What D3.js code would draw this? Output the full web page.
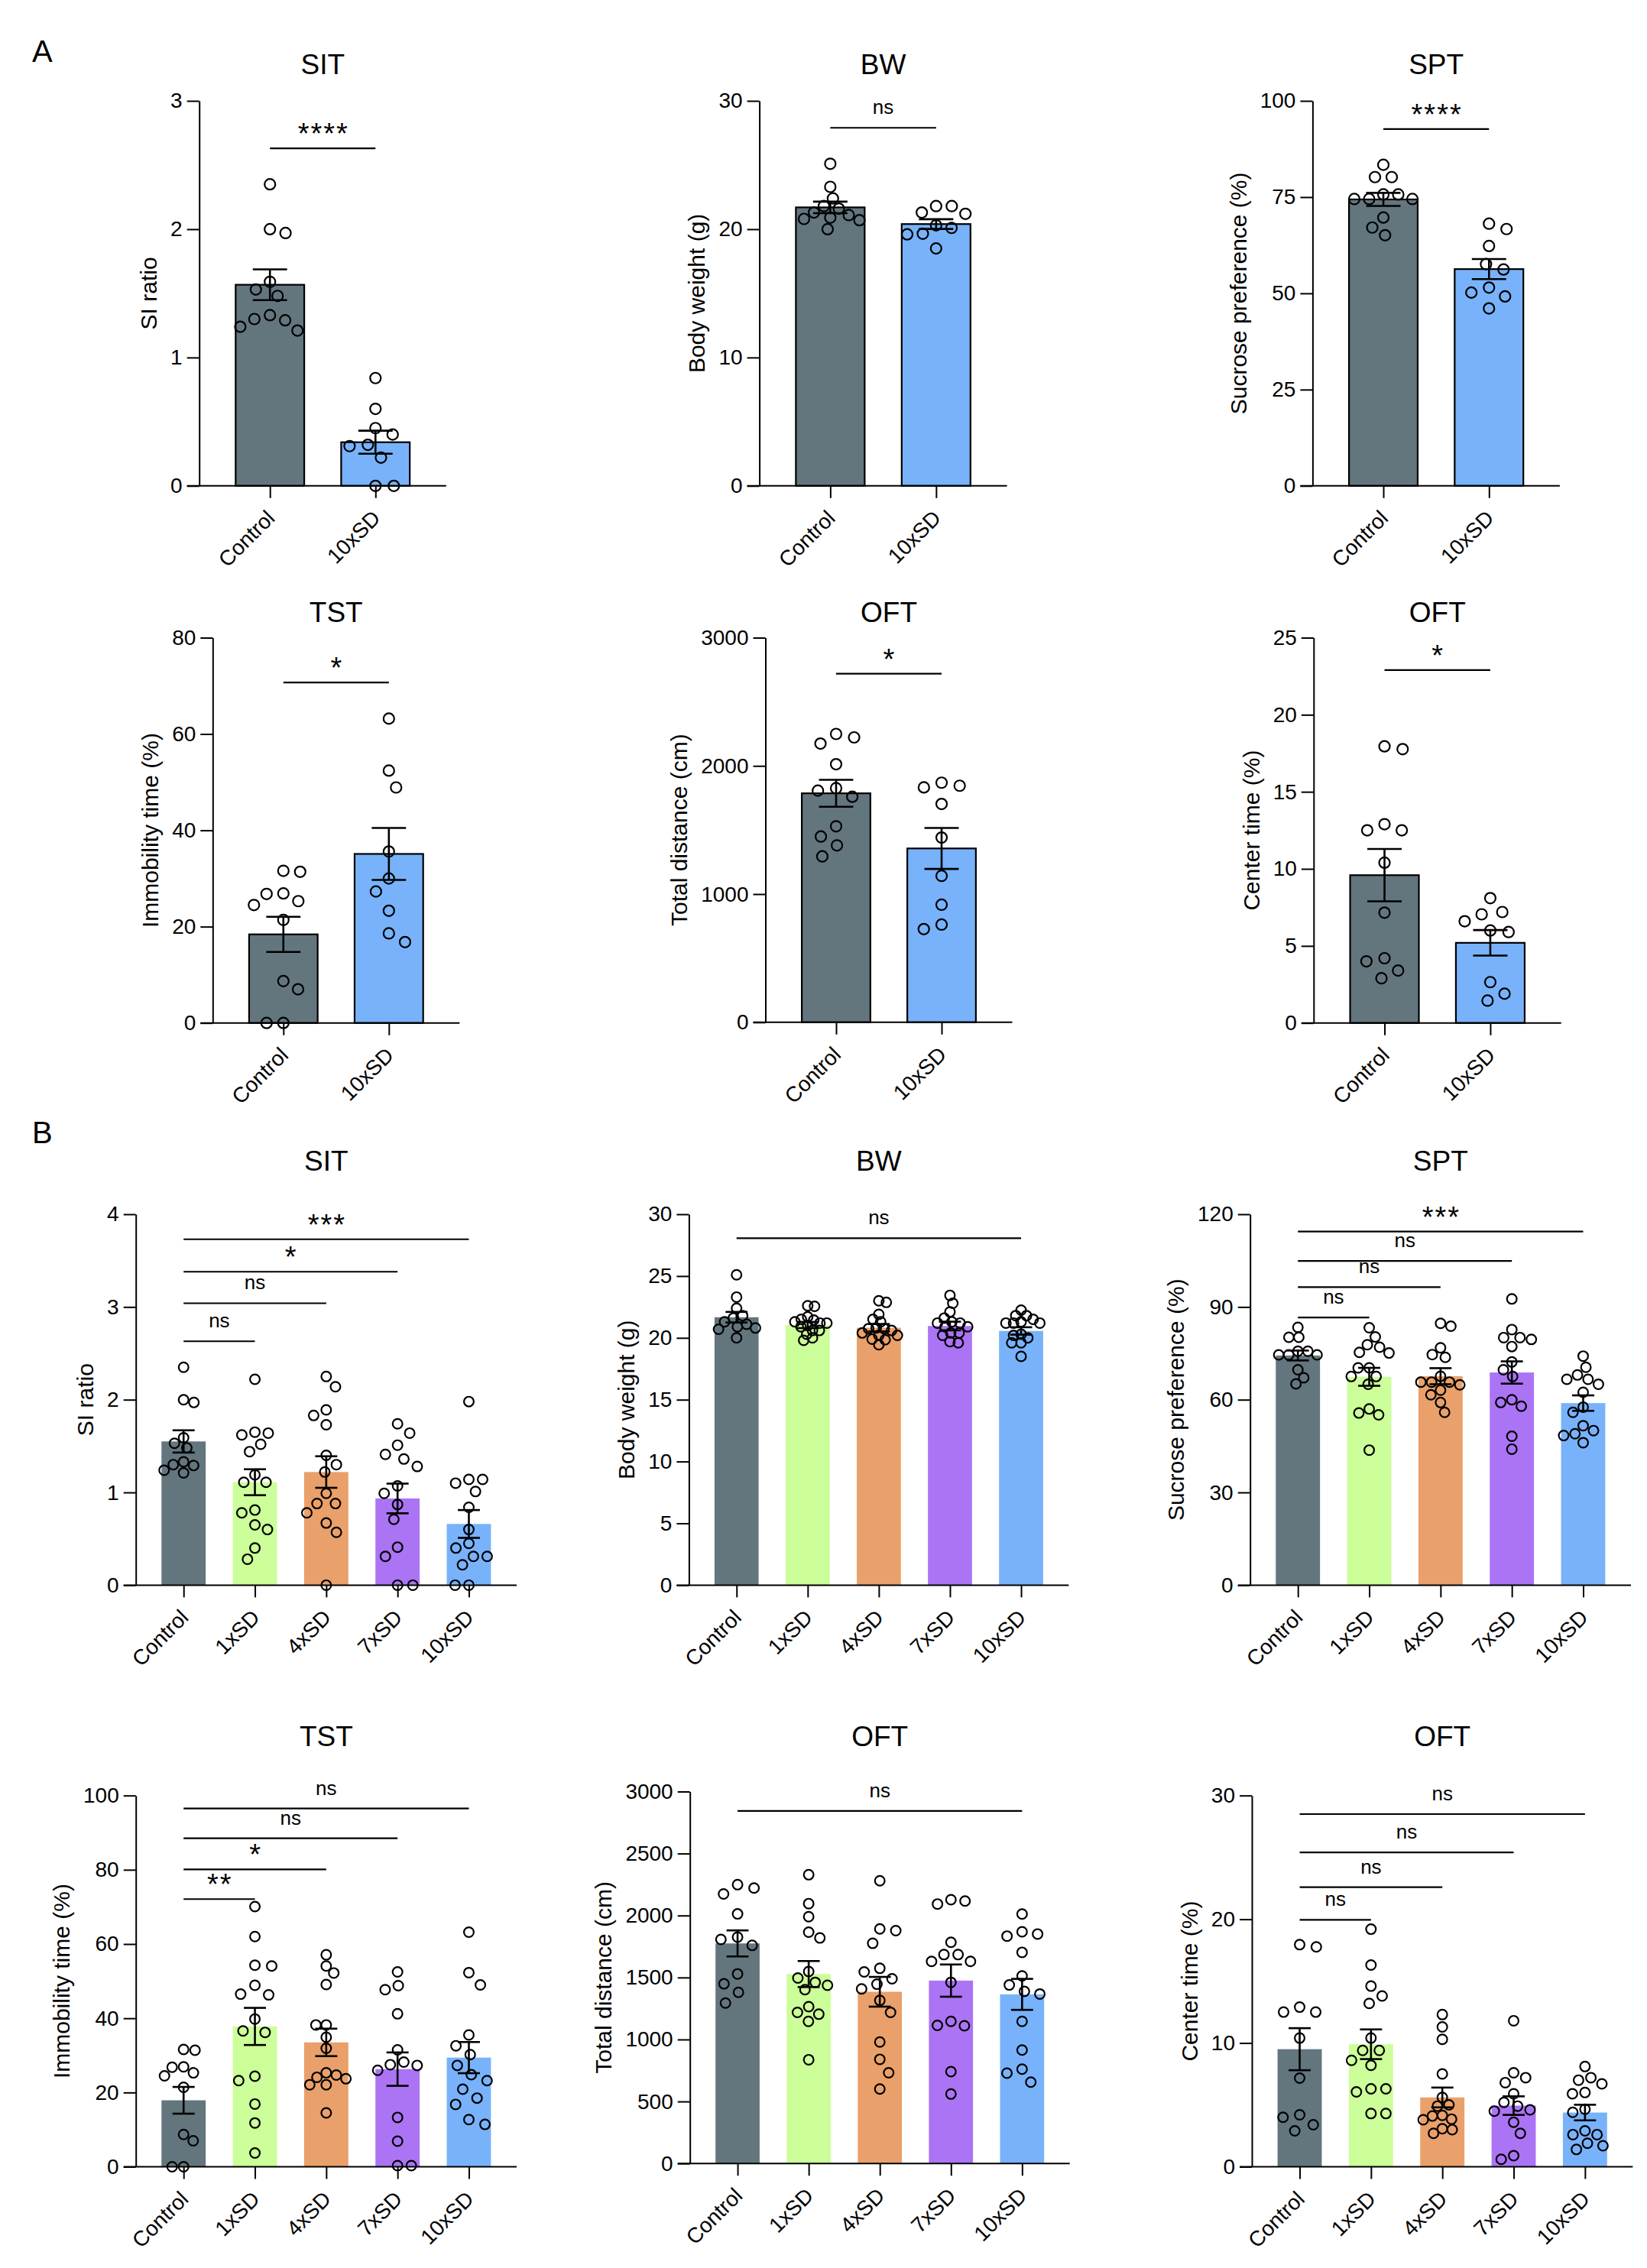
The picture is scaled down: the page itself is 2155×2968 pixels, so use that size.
<!DOCTYPE html>
<meta charset="utf-8">
<style>
    body { margin: 0; background: #fff; }
    text { font-family: "Liberation Sans", Arial, sans-serif; fill: #000; }
    .axis path, .axis line { stroke: #000; stroke-width: 2; }
    .axis text { font-size: 28px; }
    .title { font-size: 37px; text-anchor: middle; }
    .ylab { font-size: 30px; text-anchor: middle; }
    .xlab { font-size: 28px; text-anchor: end; }
    .panel-letter { font-size: 40px; }
    .sig-ns { font-size: 26px; text-anchor: middle; }
    .sig-star { font-size: 38px; text-anchor: middle; letter-spacing: 2px; }
</style>
<title>Behaviour panels</title>
<body>
<div id="fig"></div>
<script src="https://d3js.org/d3.v7.min.js"></script>
<script>
    // groups
    var groupsA = ["Control", "10xSD"];
    var groupsB = ["Control", "1xSD", "4xSD", "7xSD", "10xSD"];

    // SIT (SI ratio)
    var sitCtrl = [2.35, 2.0, 1.97, 1.59, 1.53, 1.48, 1.33, 1.30, 1.29, 1.24, 1.21];
    var sit1 = [2.22, 1.65, 1.64, 1.62, 1.52, 1.44, 1.19, 1.11, 1.11, 0.81, 0.78, 0.65, 0.60, 0.40, 0.28];
    var sit4 = [2.25, 2.14, 1.89, 1.83, 1.73, 1.40, 1.30, 1.22, 0.99, 0.88, 0.88, 0.78, 0.67, 0.57, 0];
    var sit7 = [1.74, 1.64, 1.51, 1.41, 1.36, 1.28, 1.07, 0.99, 0.87, 0.71, 0.41, 0.31, 0, 0];
    var sit10A = [0.84, 0.60, 0.45, 0.40, 0.32, 0.31, 0.22, 0, 0];
    var sit10B = [1.98, 1.14, 1.14, 1.10, 1.01, 0.84, 0.60, 0.45, 0.40, 0.31, 0.31, 0.22, 0, 0];
    var sitMeanA = [1.567, 0.34], sitSemA = [0.12, 0.09];
    var sitMeanB = [1.55, 1.11, 1.22, 0.935, 0.66], sitSemB = [0.12, 0.14, 0.17, 0.16, 0.15];

    // BW (body weight, g)
    var bwCtrl = [25.1, 23.3, 22.4, 21.8, 21.6, 21.3, 21.1, 20.9, 20.8, 20.7, 20.0];
    var bw1 = [22.6, 22.55, 21.7, 21.5, 21.44, 21.3, 21.2, 21.2, 21.0, 20.9, 20.6, 20.6, 20.3, 20.0, 19.8];
    var bw4 = [23.0, 22.87, 21.9, 21.5, 21.3, 20.8, 20.75, 20.75, 20.6, 20.4, 20.2, 20.2, 19.9, 19.85, 19.45];
    var bw7 = [23.44, 22.8, 22.1, 21.6, 21.3, 21.2, 21.2, 20.9, 20.9, 20.4, 20.4, 20.2, 19.7, 19.6];
    var bw10A = [21.8, 21.8, 21.3, 21.2, 20.3, 20.1, 19.65, 19.6, 18.5];
    var bw10B = [22.24, 21.8, 21.8, 21.5, 21.3, 21.2, 21.2, 21.2, 20.3, 20.2, 20.0, 19.6, 19.6, 18.5];
    var bwMeanA = [21.7, 20.4], bwSemA = [0.45, 0.38];
    var bwMeanB = [21.67, 21.04, 20.82, 20.96, 20.56], bwSemB = [0.43, 0.25, 0.3, 0.35, 0.3];

    // SPT (sucrose preference, %)
    var sptCtrl = [83.4, 80.2, 80.2, 75.7, 75.7, 74.5, 74.5, 74.5, 69.7, 67.1, 65.1];
    var spt1 = [83.3, 80.3, 77.8, 77.0, 75.3, 75.1, 70.3, 70.3, 67.5, 67.5, 65.0, 57.0, 55.7, 55.1, 43.7];
    var spt4 = [84.7, 83.8, 76.8, 74.6, 73.7, 67.6, 65.7, 65.7, 65.7, 64.8, 63.1, 61.6, 59.1, 55.9];
    var spt7 = [92.6, 82.7, 80.1, 80.1, 79.5, 77.2, 72.2, 69.7, 67.5, 60.0, 59.1, 57.9, 48.2, 44.0];
    var spt10A = [68.1, 66.7, 62.3, 57.6, 56.2, 51.5, 50.2, 49.2, 46.1];
    var spt10B = [74.1, 70.5, 68.0, 66.6, 66.6, 65.0, 62.4, 57.6, 55.9, 51.6, 50.0, 49.0, 48.4, 46.1];
    var sptMeanA = [74.4, 56.3], sptSemA = [1.7, 2.6];
    var sptMeanB = [74.3, 67.4, 67.6, 68.8, 58.9], sptSemB = [1.6, 2.9, 2.6, 3.6, 2.5];

    // TST (immobility time, %)
    var tstCtrl = [31.6, 31.4, 26.9, 26.8, 25.3, 24.5, 21.4, 8.7, 7.0, 0, 0];
    var tst1 = [70.1, 62.0, 54.3, 54.1, 48.9, 46.5, 46.3, 39.8, 36.6, 36.2, 24.4, 23.2, 16.9, 11.8, 3.7];
    var tst4 = [57.1, 54.1, 52.2, 49.1, 38.2, 38.2, 34.9, 31.9, 25.3, 24.7, 24.1, 23.7, 22.1, 22.1, 14.5];
    var tst7 = [52.5, 48.8, 47.7, 41.2, 31.5, 28.2, 27.5, 27.3, 26.0, 13.3, 6.9, 0.3, 0.3];
    var tst10A = [63.2, 52.4, 48.9, 35.6, 30.0, 27.3, 23.3, 18.6, 16.8];
    var tst10B = [63.2, 52.3, 49.0, 35.5, 32.6, 30.2, 27.3, 24.8, 23.2, 20.9, 18.5, 16.8, 12.7, 11.4];
    var tstMeanA = [18.4, 35.1], tstSemA = [3.65, 5.4];
    var tstMeanB = [17.9, 37.8, 33.5, 26.3, 29.4], tstSemB = [3.6, 5.0, 3.7, 4.5, 4.2];

    // OFT total distance (cm)
    var distCtrl = [2249, 2222, 2174, 2013, 1826, 1807, 1759, 1529, 1449, 1380, 1294];
    var dist1 = [2329, 2096, 1991, 1866, 1819, 1548, 1496, 1461, 1437, 1402, 1265, 1219, 1204, 1146, 837];
    var dist4 = [2280, 1892, 1878, 1776, 1574, 1545, 1490, 1446, 1408, 1315, 1219, 980, 840, 732, 601];
    var dist7 = [2128, 2117, 2093, 1784, 1685, 1685, 1630, 1630, 1461, 1146, 1114, 1111, 741, 560];
    var dist10A = [1869, 1845, 1832, 1703, 1441, 1142, 917, 762, 727];
    var dist10B = [2012, 1869, 1851, 1834, 1703, 1513, 1440, 1388, 1367, 1146, 915, 761, 729, 656];
    var distMeanA = [1786, 1356], distSemA = [105, 160];
    var distMeanB = [1775, 1528, 1385, 1475, 1364], distSemB = [105, 105, 120, 130, 125];

    // OFT center time (%)
    var ctrCtrl = [17.95, 17.77, 12.9, 12.5, 12.5, 10.4, 7.16, 4.2, 4.0, 3.4, 2.9];
    var ctr1 = [19.2, 16.3, 14.6, 13.8, 13.2, 10.4, 9.4, 9.4, 8.6, 8.2, 6.3, 6.3, 6.05, 4.3, 4.3];
    var ctr4 = [12.3, 11.3, 10.3, 7.5, 5.6, 5.0, 4.9, 4.15, 4.1, 3.85, 3.8, 3.07, 3.0, 2.7];
    var ctr7 = [11.8, 7.6, 7.2, 6.8, 5.9, 5.2, 4.9, 4.6, 4.5, 3.6, 2.7, 0.9, 0.6];
    var ctr10A = [8.1, 7.2, 7.05, 6.6, 6.0, 5.9, 2.65, 1.9, 1.45];
    var ctr10B = [8.1, 7.2, 7.0, 6.7, 6.0, 5.9, 4.65, 4.4, 2.9, 2.6, 2.6, 1.9, 1.7, 1.4];
    var ctrMeanA = [9.59, 5.2], ctrSemA = [1.7, 0.83];
    var ctrMeanB = [9.5, 9.9, 5.6, 4.94, 4.38], ctrSemB = [1.7, 1.2, 0.8, 0.75, 0.63];

    // y ticks
    var sitTicksA = [0, 1, 2, 3], sitTicksB = [0, 1, 2, 3, 4];
    var bwTicksA = [0, 10, 20, 30], bwTicksB = [0, 5, 10, 15, 20, 25, 30];
    var sptTicksA = [0, 25, 50, 75, 100], sptTicksB = [0, 30, 60, 90, 120];
    var tstTicksA = [0, 20, 40, 60, 80], tstTicksB = [0, 20, 40, 60, 80, 100];
    var distTicksA = [0, 1000, 2000, 3000], distTicksB = [0, 500, 1000, 1500, 2000, 2500, 3000];
    var ctrTicksA = [0, 5, 10, 15, 20, 25], ctrTicksB = [0, 10, 20, 30];

    // significance brackets (from Control to group index "to", height in data units)
    var sitSigA = [{to: 1, y: 2.63, label: "****"}];
    var bwSigA = [{to: 1, y: 27.9, label: "ns"}];
    var sptSigA = [{to: 1, y: 92.7, label: "****"}];
    var tstSigA = [{to: 1, y: 70.7, label: "*"}];
    var distSigA = [{to: 1, y: 2719, label: "*"}];
    var ctrSigA = [{to: 1, y: 22.9, label: "*"}];
    var sitSigB = [{to: 4, y: 3.73, label: "***"}, {to: 3, y: 3.38, label: "*"}, {to: 2, y: 3.04, label: "ns"}, {to: 1, y: 2.63, label: "ns"}];
    var bwSigB = [{to: 4, y: 28.06, label: "ns"}];
    var sptSigB = [{to: 4, y: 114.4, label: "***"}, {to: 3, y: 104.9, label: "ns"}, {to: 2, y: 96.4, label: "ns"}, {to: 1, y: 86.6, label: "ns"}];
    var tstSigB = [{to: 4, y: 96.5, label: "ns"}, {to: 3, y: 88.5, label: "ns"}, {to: 2, y: 80.1, label: "*"}, {to: 1, y: 72.1, label: "**"}];
    var distSigB = [{to: 4, y: 2843, label: "ns"}];
    var ctrSigB = [{to: 4, y: 28.5, label: "ns"}, {to: 3, y: 25.4, label: "ns"}, {to: 2, y: 22.6, label: "ns"}, {to: 1, y: 19.95, label: "ns"}];

    var colors = {"Control": "#63767e", "1xSD": "#ccfe99", "4xSD": "#eaa06a", "7xSD": "#aa74f4", "10xSD": "#78b2fa"};

    // plot boxes: [axis x, x end, top, bottom, title baseline]
    var boxes = [
        [260.7, 583.8, 132, 635.8, 97.4], [993.6, 1317.6, 132, 635.8, 97.4], [1717.4, 2040.9, 132, 635.8, 97.4],
        [278.3, 601.3, 834.5, 1338.7, 813.8], [1001.5, 1324.5, 834.5, 1337.8, 813.8], [1718.8, 2042.7, 834.5, 1338.7, 813.8],
        [177.7, 676, 1589, 2074.4, 1531.7], [901.4, 1398.4, 1589, 2074.4, 1531.7], [1635.7, 2134, 1589, 2074.4, 1531.7],
        [177.7, 676, 2349.7, 2835.5, 2285.3], [902.7, 1399.7, 2344.5, 2831.2, 2285.3], [1638, 2136.4, 2349.7, 2835.5, 2285.3]
    ];

    var panels = [
        {title: "SIT", ylab: "SI ratio", groups: groupsA, pts: [sitCtrl, sit10A], mean: sitMeanA, sem: sitSemA, ticks: sitTicksA, sig: sitSigA},
        {title: "BW", ylab: "Body weight (g)", groups: groupsA, pts: [bwCtrl, bw10A], mean: bwMeanA, sem: bwSemA, ticks: bwTicksA, sig: bwSigA},
        {title: "SPT", ylab: "Sucrose preference (%)", groups: groupsA, pts: [sptCtrl, spt10A], mean: sptMeanA, sem: sptSemA, ticks: sptTicksA, sig: sptSigA},
        {title: "TST", ylab: "Immobility time (%)", groups: groupsA, pts: [tstCtrl, tst10A], mean: tstMeanA, sem: tstSemA, ticks: tstTicksA, sig: tstSigA},
        {title: "OFT", ylab: "Total distance (cm)", groups: groupsA, pts: [distCtrl, dist10A], mean: distMeanA, sem: distSemA, ticks: distTicksA, sig: distSigA},
        {title: "OFT", ylab: "Center time (%)", groups: groupsA, pts: [ctrCtrl, ctr10A], mean: ctrMeanA, sem: ctrSemA, ticks: ctrTicksA, sig: ctrSigA},
        {title: "SIT", ylab: "SI ratio", groups: groupsB, pts: [sitCtrl, sit1, sit4, sit7, sit10B], mean: sitMeanB, sem: sitSemB, ticks: sitTicksB, sig: sitSigB},
        {title: "BW", ylab: "Body weight (g)", groups: groupsB, pts: [bwCtrl, bw1, bw4, bw7, bw10B], mean: bwMeanB, sem: bwSemB, ticks: bwTicksB, sig: bwSigB},
        {title: "SPT", ylab: "Sucrose preference (%)", groups: groupsB, pts: [sptCtrl, spt1, spt4, spt7, spt10B], mean: sptMeanB, sem: sptSemB, ticks: sptTicksB, sig: sptSigB},
        {title: "TST", ylab: "Immobility time (%)", groups: groupsB, pts: [tstCtrl, tst1, tst4, tst7, tst10B], mean: tstMeanB, sem: tstSemB, ticks: tstTicksB, sig: tstSigB},
        {title: "OFT", ylab: "Total distance (cm)", groups: groupsB, pts: [distCtrl, dist1, dist4, dist7, dist10B], mean: distMeanB, sem: distSemB, ticks: distTicksB, sig: distSigB},
        {title: "OFT", ylab: "Center time (%)", groups: groupsB, pts: [ctrCtrl, ctr1, ctr4, ctr7, ctr10B], mean: ctrMeanB, sem: ctrSemB, ticks: ctrTicksB, sig: ctrSigB}
    ];

    var svg = d3.select("#fig").append("svg")
        .attr("width", 2155)
        .attr("height", 2968)
        .style("display", "block");

    svg.append("text").attr("class", "panel-letter").attr("x", 42).attr("y", 81).text("A");
    svg.append("text").attr("class", "panel-letter").attr("x", 42).attr("y", 1496).text("B");

    // dodge so the circles of one group don't sit on top of each other
    function dodge(vals, y, minDist) {
        var placed = [];
        var items = vals.map(function(v) { return {v: v, py: y(v)}; })
            .sort(function(a, b) { return a.py - b.py; });
        var bal = 0;
        items.forEach(function(p) {
            var forb = [];
            placed.forEach(function(q) {
                var dy = Math.abs(q.py - p.py);
                if (dy < minDist) {
                    var w = Math.sqrt(minDist * minDist - dy * dy);
                    forb.push([q.dx - w, q.dx + w]);
                }
            });
            var cands = [0];
            forb.forEach(function(f) { cands.push(f[0], f[1]); });
            cands = cands.filter(function(c) {
                return !forb.some(function(f) { return c > f[0] + 1e-6 && c < f[1] - 1e-6; });
            });
            cands.sort(function(a, b) {
                var d = Math.abs(a) - Math.abs(b);
                if (Math.abs(d) > 0.5) return d;
                // tie: go to the side with less weight
                return bal > 0 ? a - b : b - a;
            });
            p.dx = cands[0];
            bal += p.dx;
            placed.push(p);
        });
        return placed;
    }

    // shrink spacing until the swarm fits inside the given half width
    function swarm(vals, y, minDist, limit) {
        var d = minDist, pts;
        do {
            pts = dodge(vals, y, d);
            d -= 0.5;
        } while (d > 6 && d3.max(pts, function(q) { return Math.abs(q.dx); }) > limit);
        return pts;
    }

    panels.forEach(function(p, pi) {
        var b = boxes[pi];
        var isA = p.groups.length === 2;
        var g = svg.append("g").attr("class", "panel");

        var y = d3.scaleLinear().domain([0, d3.max(p.ticks)]).range([b[3], b[2]]);
        var x = d3.scalePoint().domain(p.groups).range([b[0], b[1]]).padding(0.67);
        var bw = x.step() * (isA ? 0.65 : 0.62);
        var r = isA ? 7 : 6.4;

        g.append("text").attr("class", "title")
            .attr("x", (b[0] + b[1]) / 2).attr("y", b[4]).text(p.title);

        // bars
        g.selectAll("rect.bar").data(p.groups).join("rect")
            .attr("class", "bar")
            .attr("x", function(d) { return x(d) - bw / 2; })
            .attr("y", function(d, i) { return y(p.mean[i]); })
            .attr("width", bw)
            .attr("height", function(d, i) { return y(0) - y(p.mean[i]); })
            .attr("fill", function(d) { return colors[d]; })
            .attr("stroke", isA ? "#000" : "none")
            .attr("stroke-width", 2.2);

        // individual animals
        p.groups.forEach(function(grp, gi) {
            var pts = isA ? swarm(p.pts[gi], y, 24, 39) : swarm(p.pts[gi], y, 22, 26);
            g.append("g").selectAll("circle").data(pts).join("circle")
                .attr("cx", function(d) { return x(grp) + d.dx; })
                .attr("cy", function(d) { return d.py; })
                .attr("r", r)
                .attr("fill", "none")
                .attr("stroke", "#000")
                .attr("stroke-width", 2.2);
        });

        // mean +- SEM
        var eb = g.append("g").attr("stroke", "#000").attr("stroke-width", 2.6).attr("fill", "none");
        p.groups.forEach(function(grp, gi) {
            var cx = x(grp), m = p.mean[gi], s = p.sem[gi], cw = bw / 4;
            eb.append("line").attr("x1", cx).attr("x2", cx).attr("y1", y(m - s)).attr("y2", y(m + s));
            eb.append("line").attr("x1", cx - cw).attr("x2", cx + cw).attr("y1", y(m + s)).attr("y2", y(m + s));
            eb.append("line").attr("x1", cx - cw).attr("x2", cx + cw).attr("y1", y(m - s)).attr("y2", y(m - s));
        });

        // axes
        var yAxis = g.append("g").attr("class", "axis")
            .attr("transform", "translate(" + b[0] + ",0)")
            .call(d3.axisLeft(y).tickValues(p.ticks).tickFormat(d3.format("d"))
                .tickSize(16).tickSizeOuter(0).tickPadding(6));
        yAxis.selectAll("text").attr("fill", "#000").style("font-family", "Liberation Sans, Arial, sans-serif");

        var xAxis = g.append("g").attr("class", "axis")
            .attr("transform", "translate(0," + b[3] + ")")
            .call(d3.axisBottom(x).tickSize(16).tickSizeOuter(0).tickFormat(""));
        xAxis.select(".domain").attr("d", "M" + (b[0] - 16) + ",0H" + b[1]);

        p.groups.forEach(function(grp) {
            g.append("text").attr("class", "xlab")
                .attr("transform", "translate(" + (x(grp) + 8) + "," + (b[3] + 44) + ") rotate(-45)")
                .text(grp);
        });

        // y axis title, placed left of the widest tick label
        var lw = d3.max(yAxis.selectAll("text").nodes(), function(n) { return n.getBBox().width; });
        var bx = b[0] - 22 - lw - 18;
        g.append("text").attr("class", "ylab")
            .attr("transform", "translate(" + bx + "," + ((b[2] + b[3]) / 2) + ") rotate(-90)")
            .text(p.ylab);

        // significance brackets
        p.sig.forEach(function(s) {
            var x1 = x(p.groups[0]), x2 = x(p.groups[s.to]), yy = y(s.y);
            g.append("line").attr("x1", x1).attr("x2", x2).attr("y1", yy).attr("y2", yy)
                .attr("stroke", "#000").attr("stroke-width", 2.2);
            var ns = s.label === "ns";
            g.append("text").attr("class", ns ? "sig-ns" : "sig-star")
                .attr("x", (x1 + x2) / 2 + (ns ? 0 : 1))
                .attr("y", yy - (ns ? 18 : 6))
                .text(s.label);
        });
    });
</script>
</body>
